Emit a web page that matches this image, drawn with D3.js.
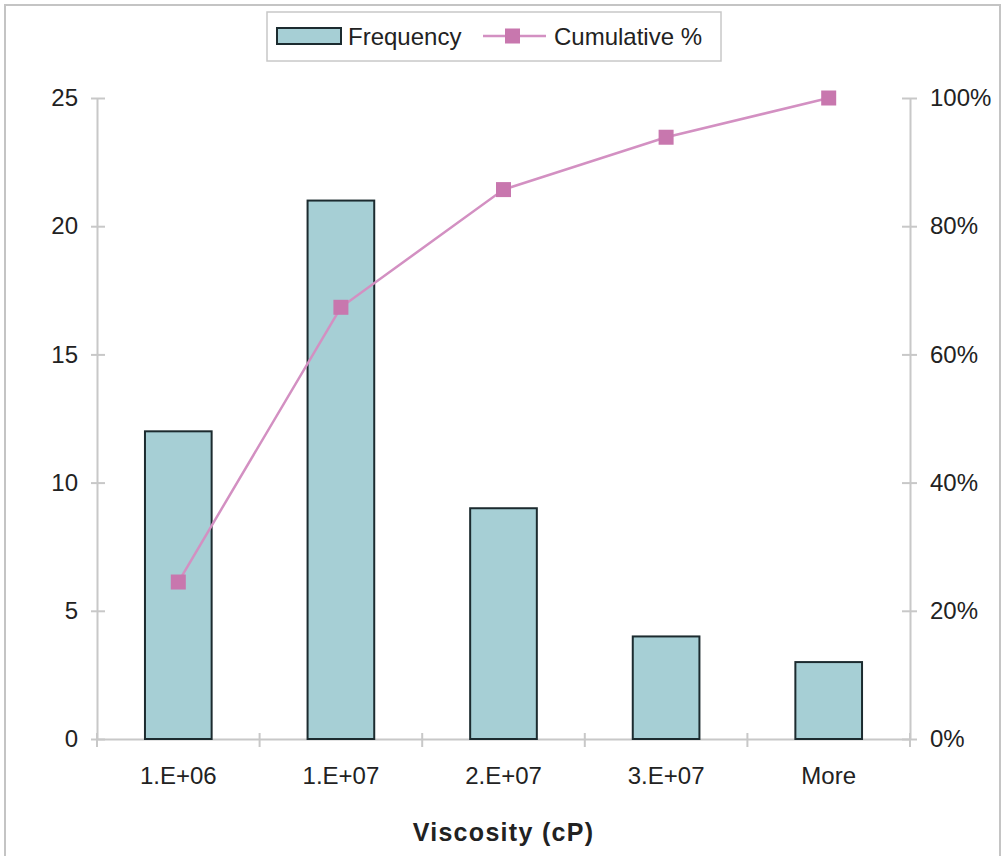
<!doctype html>
<html>
<head>
<meta charset="utf-8">
<title>Viscosity histogram</title>
<script src="https://cdnjs.cloudflare.com/ajax/libs/d3/7.8.5/d3.min.js"></script>
<style>
  body { margin: 0; background: #fff; font-family: 'Liberation Sans', Arial, sans-serif; }
  text { fill: #222; }
</style>
</head>
<body>
<div id="chart"></div>
<script>
// data
var categories = ["1.E+06", "1.E+07", "2.E+07", "3.E+07", "More"];
var frequency = [12, 21, 9, 4, 3];
var cumulative = [24.49, 67.35, 85.71, 93.88, 100];
var freqTicks = [0, 5, 10, 15, 20, 25];
var pctTicks = [0, 20, 40, 60, 80, 100];

var width = 1001, height = 856;
var margin = { top: 98, right: 91, bottom: 117, left: 97 };

var svg = d3.select("#chart").append("svg")
    .attr("width", width).attr("height", height);

// outer frame
svg.append("path")
    .attr("d", "M5," + height + "V5H1000V" + height)
    .attr("fill", "none").attr("stroke", "#c4c4c4").attr("stroke-width", 2);

var x = d3.scaleBand(categories, [margin.left, width - margin.right]).paddingInner(0).paddingOuter(0);
var yL = d3.scaleLinear([0, 25], [height - margin.bottom, margin.top]);
var yR = d3.scaleLinear([0, 100], [height - margin.bottom, margin.top]);

var axisColor = "#c8c8c8";
var bottom = height - margin.bottom;

// left axis
var left = svg.append("g").attr("transform", `translate(${margin.left},0)`)
    .call(d3.axisLeft(yL).tickValues(freqTicks).tickSize(0).tickPadding(19));
left.select(".domain").attr("stroke", axisColor).attr("stroke-width", 2);
left.selectAll(".tick").append("line").attr("x1", -6).attr("x2", 8)
    .attr("stroke", axisColor).attr("stroke-width", 2);

// right axis
var right = svg.append("g").attr("transform", `translate(${width - margin.right},0)`)
    .call(d3.axisRight(yR).tickValues(pctTicks).tickFormat(d => d + "%").tickSize(0).tickPadding(20));
right.select(".domain").attr("stroke", axisColor).attr("stroke-width", 2);
right.selectAll(".tick").append("line").attr("x1", -8).attr("x2", 7)
    .attr("stroke", axisColor).attr("stroke-width", 2);

// bottom axis, ticks on the category boundaries
var xAxis = svg.append("g").attr("transform", `translate(0,${bottom})`)
    .call(d3.axisBottom(x).tickSize(0).tickPadding(28));
xAxis.select(".domain").attr("stroke", axisColor).attr("stroke-width", 2);
xAxis.selectAll(".boundary")
    .data(d3.range(categories.length + 1))
    .join("line")
    .attr("x1", i => margin.left + i * x.step())
    .attr("x2", i => margin.left + i * x.step())
    .attr("y1", -6).attr("y2", 8)
    .attr("stroke", axisColor).attr("stroke-width", 2);

svg.selectAll(".tick text").attr("font-size", 24).attr("fill", "#222")
    .attr("font-family", "'Liberation Sans', Arial, sans-serif");

// bars
var barW = x.bandwidth() * 0.41;
svg.append("g").selectAll("rect")
    .data(frequency)
    .join("rect")
    .attr("x", (d, i) => x(categories[i]) + x.bandwidth() / 2 - barW / 2)
    .attr("y", d => yL(d))
    .attr("width", barW)
    .attr("height", d => yL(0) - yL(d))
    .attr("fill", "#a6cfd5")
    .attr("stroke", "#1c2b2f")
    .attr("stroke-width", 2);

// cumulative line
var line = d3.line()
    .x((d, i) => x(categories[i]) + x.bandwidth() / 2)
    .y(d => yR(d));

svg.append("path")
    .datum(cumulative)
    .attr("d", line)
    .attr("fill", "none")
    .attr("stroke", "#d390c2")
    .attr("stroke-width", 2.5);

svg.append("g").selectAll("rect")
    .data(cumulative)
    .join("rect")
    .attr("x", (d, i) => x(categories[i]) + x.bandwidth() / 2 - 7.5)
    .attr("y", d => yR(d) - 7.5)
    .attr("width", 15).attr("height", 15)
    .attr("fill", "#c877ae");

// axis title
svg.append("text")
    .attr("x", (margin.left + width - margin.right) / 2)
    .attr("y", 841)
    .attr("text-anchor", "middle")
    .attr("font-size", 25)
    .attr("font-weight", "bold")
    .attr("letter-spacing", 1.3)
    .text("Viscosity (cP)");

// legend
var legend = svg.append("g");
legend.append("rect").attr("x", 267).attr("y", 12).attr("width", 454).attr("height", 49)
    .attr("fill", "#fff").attr("stroke", "#c8c8c8").attr("stroke-width", 1.5);
legend.append("rect").attr("x", 277).attr("y", 28).attr("width", 64).attr("height", 16)
    .attr("fill", "#a6cfd5").attr("stroke", "#1c2b2f").attr("stroke-width", 2);
legend.append("text").attr("x", 348).attr("y", 45).attr("font-size", 24).text("Frequency");
legend.append("line").attr("x1", 483).attr("x2", 546).attr("y1", 36).attr("y2", 36)
    .attr("stroke", "#d390c2").attr("stroke-width", 2.5);
legend.append("rect").attr("x", 505).attr("y", 28.5).attr("width", 15).attr("height", 15)
    .attr("fill", "#c877ae");
legend.append("text").attr("x", 554).attr("y", 45).attr("font-size", 24).text("Cumulative %");
</script>
</body>
</html>
